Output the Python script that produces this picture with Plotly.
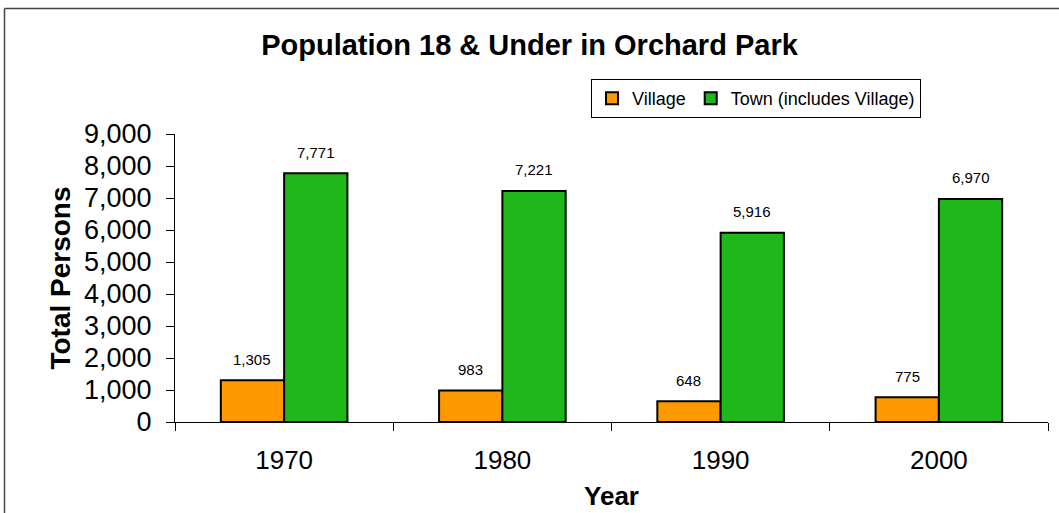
import plotly.graph_objects as go

years = ['1970', '1980', '1990', '2000']
village = [1305, 983, 648, 775]
town = [7771, 7221, 5916, 6970]

W, H = 1059, 513
ml, mr, mt, mb = 175, 11, 134, 91
pw = W - ml - mr
ph = H - mt - mb
bargap = 0.42
bar_px = pw / len(years) * (1 - bargap) / 2


def px_x(x):
    return (x - ml) / pw


def px_y(y):
    return (mt + ph - y) / ph


fig = go.Figure()
fig.add_trace(go.Bar(x=years, y=village, name='Village',
                     marker=dict(color='#FF9900', line=dict(color='black', width=2))))
fig.add_trace(go.Bar(x=years, y=town, name='Town (includes Village)',
                     marker=dict(color='#1FB71A', line=dict(color='black', width=2))))

# value labels sitting well above the bars (x as category index)
for vals, shift in [(village, -bar_px / 2), (town, bar_px / 2)]:
    for i, v in enumerate(vals):
        fig.add_annotation(x=i, y=v, text=f'{v:,}', showarrow=False,
                           xshift=shift, yshift=21, yanchor='middle',
                           font=dict(size=15, color='black'))

fig.update_layout(
    width=W, height=H,
    margin=dict(l=ml, r=mr, t=mt, b=mb, autoexpand=False),
    paper_bgcolor='white', plot_bgcolor='white',
    font=dict(family='Liberation Sans, Arial', color='black'),
    barmode='group', bargap=bargap, bargroupgap=0,
    title=dict(text='<b>Population 18 & Under in Orchard Park</b>',
               font=dict(size=29), x=0.5, xanchor='center',
               y=1 - 45 / H, yanchor='middle'),
    legend=dict(orientation='h', x=px_x(591), y=px_y(79),
                xanchor='left', yanchor='top',
                bordercolor='black', borderwidth=1,
                font=dict(size=18), itemwidth=30,
                traceorder='normal'),
    showlegend=True,
)
fig.update_xaxes(
    type='category', automargin=False,
    showline=True, linecolor='black', linewidth=1,
    ticks='outside', tickson='boundaries', ticklen=8, tickcolor='black',
    tickfont=dict(size=26), range=[-0.5, 3.5], ticklabelstandoff=15,
    title=dict(text='<b>Year</b>', font=dict(size=26), standoff=12),
)
fig.update_yaxes(
    automargin=False,
    range=[0, 9000], dtick=1000, tickformat=',',
    showline=True, linecolor='black', linewidth=1, showgrid=False,
    ticks='outside', ticklen=8, tickcolor='black',
    tickfont=dict(size=27), ticklabelstandoff=9,
    title=dict(text='<b>Total Persons</b>', font=dict(size=28), standoff=5),
)
# frame lines on top and left, as in the original
fig.add_shape(type='line', xref='paper', yref='paper',
              x0=px_x(4.5), x1=px_x(W + 5), y0=px_y(8.5), y1=px_y(8.5),
              line=dict(color='#444', width=1.5))
fig.add_shape(type='line', xref='paper', yref='paper',
              x0=px_x(4.5), x1=px_x(4.5), y0=px_y(8.5), y1=px_y(H + 5),
              line=dict(color='#444', width=1.5))

fig.write_html('out.html', config={'displayModeBar': False},
               post_script="document.body.style.margin='0';")
